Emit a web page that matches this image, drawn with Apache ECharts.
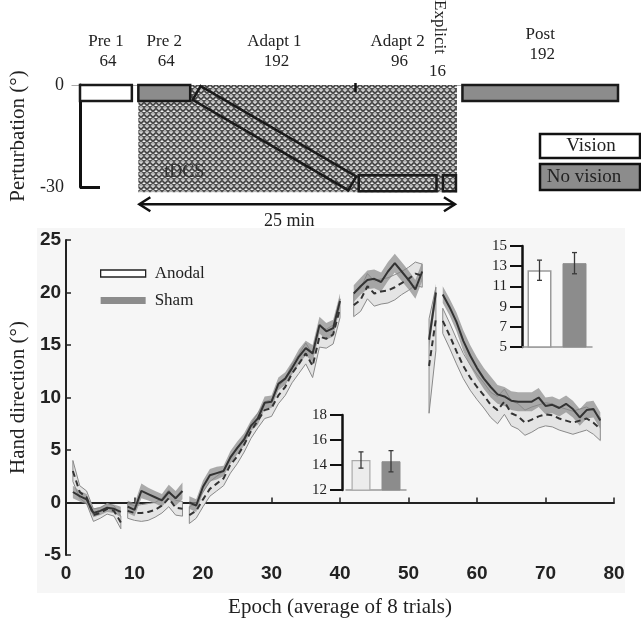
<!DOCTYPE html>
<html><head><meta charset="utf-8">
<script src="https://cdn.jsdelivr.net/npm/echarts@6/dist/echarts.min.js"></script>
<style>html,body{margin:0;padding:0;background:#fff}#c{width:641px;height:623px}</style>
</head><body><div id="c"></div>
<script>
// ---------------- main chart data ----------------
const epochs = [1,2,3,4,5,6,7,8, 9,10,11,12,13,14,15,16,17,
  18,19,20,21,22,23,24,25,26,27,28,29,30,31,32,33,34,35,36,37,38,39,40,
  42,43,44,45,46,47,48,49,50,51,52, 53,54,
  55,56,57,58,59,60,61,62,63,64,65,66,67,68,69,70,71,72,73,74,75,76,77,78];
const blockFirstEpoch = [1, 9, 18, 42, 53, 55];
const shamMean = [
  1.0,0.6,0.3,-1.0,-0.8,-0.5,-0.6,-0.9,
  -0.4,-0.7,1.1,0.8,0.5,0.2,1.0,0.4,1.1,
  0.0,-0.3,1.5,2.6,2.8,3.0,4.3,5.2,6.0,7.3,8.0,9.5,9.6,11.3,11.8,12.8,13.9,14.7,14.2,16.9,16.3,16.6,19.2,
  19.9,20.6,21.2,21.3,21.0,22.0,22.8,22.0,21.2,20.3,22.0,
  15.5,20.0,
  19.8,18.6,17.2,15.4,14.0,12.8,11.8,11.0,10.3,10.1,9.7,9.6,9.6,9.6,10.0,9.2,9.3,9.0,9.4,8.9,8.1,8.8,8.9,7.8];
const shamSem = [
  0.6,0.5,0.5,0.4,0.4,0.4,0.4,0.5,
  0.6,0.6,0.7,0.6,0.6,0.6,0.7,0.7,0.8,
  0.6,0.6,0.6,0.6,0.6,0.5,0.6,0.6,0.6,0.5,0.6,0.6,0.6,0.6,0.6,0.6,0.7,0.7,0.8,0.8,0.8,0.8,0.7,
  0.8,0.8,0.9,0.9,0.9,0.9,0.9,0.9,0.9,0.9,0.9,
  0.8,0.8,
  0.8,0.8,0.9,1.0,1.0,1.0,1.0,1.0,0.9,0.9,0.9,0.9,0.9,0.9,0.9,0.8,0.8,0.8,0.8,0.8,0.8,0.8,0.8,0.8];
const anodalMean = [
  3.0,1.0,0.5,-1.2,-1.0,-0.6,-0.8,-1.9,
  -0.8,-1.0,-1.0,-0.9,-0.7,-0.3,0.4,-0.5,-0.6,
  -1.2,-0.8,0.3,1.3,1.8,2.3,3.6,4.4,5.5,6.8,7.8,8.8,9.0,10.2,11.0,12.3,13.2,14.2,13.0,15.8,15.6,16.0,18.5,
  18.8,19.3,20.6,19.9,20.1,20.2,20.5,20.9,21.3,21.8,21.6,
  13.0,17.5,
  17.3,15.9,14.4,13.0,11.9,11.0,10.2,9.3,8.8,9.6,8.5,8.2,7.6,7.9,8.2,8.4,8.3,8.0,7.8,7.6,7.8,8.0,7.6,7.0];
const anodalSem = [
  1.0,0.6,0.6,0.6,0.5,0.5,0.5,0.6,
  0.7,0.7,0.8,0.8,0.7,0.7,0.8,0.7,0.7,
  0.8,0.7,0.7,0.7,0.7,0.7,0.8,0.7,0.7,0.7,0.7,0.8,0.8,0.8,0.8,0.9,0.9,1.0,1.1,1.0,0.9,0.9,0.9,
  1.1,1.1,1.2,1.2,1.2,1.2,1.2,1.1,1.1,1.1,1.1,
  4.5,3.0,
  1.2,1.2,1.2,1.2,1.2,1.2,1.2,1.2,1.3,1.2,1.2,1.2,1.2,1.2,1.1,1.1,1.1,1.1,1.1,1.1,1.1,1.1,1.1,1.1];
const groupNames = ['Anodal', 'Sham'];

// ---------------- inset bar data ----------------
const insetLowMean = [14.4, 14.3];
const insetLowSem = [0.65, 0.85];
const insetHighMean = [12.6, 13.3];
const insetHighSem = [1.0, 1.05];

// ---------------- protocol schematic ----------------
const blockNames = ['Pre 1', 'Pre 2', 'Adapt 1', 'Adapt 2', 'Explicit', 'Post'];
const blockTrials = [64, 64, 192, 96, 16, 192];
const blockPertStart = [0, 0, 0, -30, -30, 0];
const blockPertEnd = [0, 0, -30, -30, -30, 0];
const tdcsFirstBlock = 1, tdcsLastBlock = 4;
const tdcsLabel = 'tDCS', tdcsDuration = '25 min';
const visionLegend = ['Vision', 'No vision'];

// ---------------- styling constants ----------------
const SERIF = '"Liberation Serif","Times New Roman",serif';
const SANS = '"Liberation Sans",Arial,sans-serif';
const BLOCK_GAP = 8;            // trials of blank space between blocks
const BOX_HALF = 8;             // px half-height of schematic boxes
const blockFill = ['#ffffff', '#8c8c8c', 'none', 'none', 'none', '#8c8c8c'];
const labelLift = [0, 0, 0, 0, 0, 7];
function boxCenter(p) { return p * 0.885 - 2.35; }

const blockStart = [];
(function () { let acc = 0; blockTrials.forEach((t, i) => { blockStart.push(acc); acc += t + BLOCK_GAP; }); })();
const blockEnd = blockStart.map((s, i) => s + blockTrials[i]);

const epochBlock = epochs.map(e => { let b = 0; blockFirstEpoch.forEach((f, i) => { if (e >= f) b = i; }); return b; });

function lineData(mean) {
  const out = [];
  epochs.forEach((e, k) => {
    if (k > 0 && epochBlock[k] !== epochBlock[k - 1]) out.push([(epochs[k - 1] + e) / 2, '-']);
    out.push([e, mean[k]]);
  });
  return out;
}
function bandRender(mean, sem, style) {
  return function (params, api) {
    const b = params.dataIndex;
    const ks = [];
    epochBlock.forEach((bb, k) => { if (bb === b) ks.push(k); });
    const up = ks.map(k => api.coord([epochs[k], mean[k] + sem[k]]));
    const lo = ks.map(k => api.coord([epochs[k], mean[k] - sem[k]])).reverse();
    return { type: 'polygon', shape: { points: up.concat(lo) }, style: Object.assign({}, style) };
  };
}

function makeHatch() {
  const c = document.createElement('canvas');
  c.width = 6; c.height = 6;
  const g = c.getContext('2d');
  g.fillStyle = '#b4b4b4'; g.fillRect(0, 0, 6, 6);
  g.strokeStyle = '#2e2e2e'; g.lineWidth = 1.1;
  g.beginPath(); g.moveTo(0, 0.5); g.lineTo(3, 3.5); g.lineTo(6, 0.5); g.stroke();
  g.beginPath(); g.moveTo(0, 5.5); g.lineTo(1.5, 4); g.stroke();
  g.beginPath(); g.moveTo(4.5, 4); g.lineTo(6, 5.5); g.stroke();
  g.fillStyle = '#f0f0f0';
  g.fillRect(2.5, 0, 1, 1); g.fillRect(0, 3, 1, 1); g.fillRect(5, 3, 1, 1);
  return c;
}
const hatch = makeHatch();

function errRender(params, api) {
  const x = api.value(0), m = api.value(1), s = api.value(2);
  const top = api.coord([x, m + s]), bot = api.coord([x, m - s]);
  const st = { stroke: '#3a3a3a', lineWidth: 1.3, fill: 'none' };
  return { type: 'group', children: [
    { type: 'line', shape: { x1: top[0], y1: top[1], x2: bot[0], y2: bot[1] }, style: st },
    { type: 'line', shape: { x1: top[0] - 2.5, y1: top[1], x2: top[0] + 2.5, y2: top[1] }, style: st },
    { type: 'line', shape: { x1: bot[0] - 2.5, y1: bot[1], x2: bot[0] + 2.5, y2: bot[1] }, style: st }
  ] };
}

function blockRender(params, api) {
  const i = params.dataIndex;
  const A = api.coord([blockStart[i], boxCenter(blockPertStart[i])]);
  const B = api.coord([blockEnd[i], boxCenter(blockPertEnd[i])]);
  const dx = B[0] - A[0], dy = B[1] - A[1], len = Math.hypot(dx, dy);
  const nx = -dy / len * BOX_HALF, ny = dx / len * BOX_HALF;
  const zeroY = api.coord([blockStart[i], 0])[1];
  const cx = (api.coord([blockStart[i], 0])[0] + api.coord([blockEnd[i], 0])[0]) / 2;
  const font = '17px ' + SERIF;
  const children = [{
    type: 'polygon',
    shape: { points: [[A[0] - nx, A[1] - ny], [B[0] - nx, B[1] - ny], [B[0] + nx, B[1] + ny], [A[0] + nx, A[1] + ny]] },
    style: { fill: blockFill[i], stroke: '#1a1a1a', lineWidth: 2.5 }
  }];
  if (i === 4) {
    children.push({ type: 'text', x: cx - 10, y: zeroY - 58, rotation: -Math.PI / 2,
      style: { text: blockNames[i], font: font, fill: '#222', align: 'center', verticalAlign: 'middle' } });
    children.push({ type: 'text', x: cx - 12, y: zeroY - 13,
      style: { text: String(blockTrials[i]), font: font, fill: '#222', align: 'center', verticalAlign: 'middle' } });
  } else {
    children.push({ type: 'text', x: cx, y: zeroY - 43 - labelLift[i],
      style: { text: blockNames[i], font: font, fill: '#222', align: 'center', verticalAlign: 'middle' } });
    children.push({ type: 'text', x: cx + 2, y: zeroY - 23 - labelLift[i],
      style: { text: String(blockTrials[i]), font: font, fill: '#222', align: 'center', verticalAlign: 'middle' } });
  }
  return { type: 'group', children: children };
}

function tdcsRender(params, api) {
  const x0 = api.coord([blockStart[tdcsFirstBlock], 0]);
  const x1 = api.coord([blockEnd[tdcsLastBlock], 0]);
  const bottom = api.coord([0, boxCenter(-30)])[1] + BOX_HALF + 1;
  const xm = api.coord([(blockEnd[2] + blockStart[3]) / 2, 0])[0];
  const ay = bottom + 12;
  const ast = { stroke: '#111', lineWidth: 2.5, fill: 'none' };
  return { type: 'group', children: [
    { type: 'rect', shape: { x: x0[0], y: x0[1], width: x1[0] - x0[0] + 1, height: bottom - x0[1] },
      style: { fill: { image: hatch, repeat: 'repeat' }, stroke: 'none' } },
    { type: 'line', shape: { x1: xm, y1: x0[1] - 2, x2: xm, y2: x0[1] + 7 }, style: { stroke: '#111', lineWidth: 2.5 } },
    { type: 'text', x: x0[0] + 46, y: bottom - 20,
      style: { text: tdcsLabel, font: '18px ' + SERIF, fill: '#333', align: 'center', verticalAlign: 'middle' } },
    { type: 'line', shape: { x1: x0[0] + 1, y1: ay, x2: x1[0] - 1, y2: ay }, style: ast },
    { type: 'polyline', shape: { points: [[x0[0] + 12, ay - 7], [x0[0] + 1, ay], [x0[0] + 12, ay + 7]] }, style: ast },
    { type: 'polyline', shape: { points: [[x1[0] - 12, ay - 7], [x1[0] - 1, ay], [x1[0] - 12, ay + 7]] }, style: ast },
    { type: 'text', x: (x0[0] + x1[0]) / 2 - 8, y: ay + 17,
      style: { text: tdcsDuration, font: '18px ' + SERIF, fill: '#222', align: 'center', verticalAlign: 'middle' } }
  ] };
}

const chart = echarts.init(document.getElementById('c'), null, { renderer: 'canvas' });
const insetYAxis = (min, max, offset) => ({
  type: 'value', min: min, max: max, interval: 2, offset: offset,
  axisLine: { show: true, lineStyle: { color: '#111', width: 2.5 } },
  axisTick: { show: true, inside: false, length: 12, lineStyle: { color: '#111', width: 2 } },
  axisLabel: { fontFamily: SERIF, fontSize: 15, color: '#222', margin: 15 },
  splitLine: { show: false }
});
const insetXAxis = {
  type: 'category', data: groupNames,
  axisLine: { show: true, onZero: false, lineStyle: { color: '#999', width: 1.5 } },
  axisTick: { show: false }, axisLabel: { show: false }
};

const option = {
  animation: false,
  backgroundColor: '#ffffff',
  graphic: [
    { type: 'rect', z: -10, shape: { x: 37, y: 228, width: 588, height: 365 }, style: { fill: '#f6f6f6' } },
    { type: 'rect', shape: { x: 540, y: 134, width: 100, height: 24 }, style: { fill: '#fff', stroke: '#111', lineWidth: 2.5 } },
    { type: 'text', x: 591, y: 146, style: { text: visionLegend[0], font: '19px ' + SERIF, fill: '#222', align: 'center', verticalAlign: 'middle' } },
    { type: 'rect', shape: { x: 540, y: 164, width: 100, height: 26 }, style: { fill: '#8c8c8c', stroke: '#111', lineWidth: 2.5 } },
    { type: 'text', x: 584, y: 177, style: { text: visionLegend[1], font: '19px ' + SERIF, fill: '#222', align: 'center', verticalAlign: 'middle' } }
  ],
  legend: {
    orient: 'vertical', left: 95, top: 260, itemWidth: 45, itemHeight: 7, itemGap: 10,
    textStyle: { fontFamily: SERIF, fontSize: 17, color: '#222', padding: [0, 0, 0, 4] },
    selectedMode: false,
    data: [
      { name: groupNames[0], icon: 'rect', itemStyle: { color: '#ffffff', borderColor: '#222', borderWidth: 1.3 } },
      { name: groupNames[1], icon: 'rect', itemStyle: { color: '#8c8c8c', borderWidth: 0 } }
    ]
  },
  grid: [
    { left: 66, top: 240, width: 548, height: 316 },
    { left: 64, top: 85, width: 554, height: 102 },
    { left: 346, top: 415, width: 60, height: 75 },
    { left: 522, top: 246, width: 70, height: 101 }
  ],
  xAxis: [
    { gridIndex: 0, type: 'value', min: 0, max: 80, interval: 10,
      axisLine: { lineStyle: { color: '#222', width: 2 } },
      axisTick: { inside: true, length: 5, lineStyle: { color: '#222', width: 1.5 } },
      axisLabel: { fontFamily: SANS, fontWeight: 'bold', fontSize: 19, color: '#222', margin: 9 },
      splitLine: { show: false },
      name: 'Epoch (average of 8 trials)', nameLocation: 'middle', nameGap: 42,
      nameTextStyle: { fontFamily: SERIF, fontSize: 21, color: '#222' } },
    { gridIndex: 1, type: 'value', min: -10, max: blockEnd[5], position: 'top',
      axisLine: { show: true, onZero: false, lineStyle: { color: '#aaa', width: 1 } },
      axisTick: { show: false }, axisLabel: { show: false }, splitLine: { show: false } },
    Object.assign({ gridIndex: 2 }, insetXAxis),
    Object.assign({ gridIndex: 3 }, insetXAxis)
  ],
  yAxis: [
    { gridIndex: 0, type: 'value', min: -5, max: 25, interval: 5,
      axisLine: { show: true, lineStyle: { color: '#222', width: 2 } },
      axisTick: { show: true, inside: true, length: 5, lineStyle: { color: '#222', width: 1.5 } },
      axisLabel: { fontFamily: SANS, fontWeight: 'bold', fontSize: 19, color: '#222', margin: 5 },
      splitLine: { show: false },
      name: 'Hand direction (°)', nameLocation: 'middle', nameGap: 36,
      nameTextStyle: { fontFamily: SERIF, fontSize: 21, color: '#222' } },
    { gridIndex: 1, type: 'value', min: -30, max: 0, interval: 30,
      axisLine: { show: true, lineStyle: { color: '#111', width: 3 } },
      axisTick: { show: true, inside: true, length: 20, customValues: [-30], lineStyle: { color: '#111', width: 3 } },
      axisLabel: { fontFamily: SERIF, fontSize: 18, color: '#222', margin: 8 },
      splitLine: { show: false },
      name: 'Perturbation (°)', nameLocation: 'middle', nameGap: 40,
      nameTextStyle: { fontFamily: SERIF, fontSize: 21, color: '#222' } },
    Object.assign({ gridIndex: 2 }, insetYAxis(12, 18, 4)),
    Object.assign({ gridIndex: 3 }, insetYAxis(5, 15, 0))
  ],
  series: [
    { type: 'custom', name: groupNames[0], xAxisIndex: 0, yAxisIndex: 0, silent: true, z: 1,
      itemStyle: { color: '#e4e4e4' },
      renderItem: bandRender(anodalMean, anodalSem, { fill: '#e4e4e4', stroke: 'none' }),
      data: blockFirstEpoch.map(e => [e, 0]) },
    { type: 'custom', name: groupNames[1], xAxisIndex: 0, yAxisIndex: 0, silent: true, z: 2,
      itemStyle: { color: '#8c8c8c' },
      renderItem: bandRender(shamMean, shamSem, { fill: 'rgba(140,140,140,0.72)', stroke: 'none' }),
      data: blockFirstEpoch.map(e => [e, 0]) },
    { type: 'custom', name: 'Anodal outline', xAxisIndex: 0, yAxisIndex: 0, silent: true, z: 3,
      renderItem: bandRender(anodalMean, anodalSem, { fill: 'none', stroke: '#8a8a8a', lineWidth: 1 }),
      data: blockFirstEpoch.map(e => [e, 0]) },
    { type: 'line', name: 'Anodal mean', xAxisIndex: 0, yAxisIndex: 0, z: 4, silent: true,
      showSymbol: false, symbol: 'none', connectNulls: false,
      lineStyle: { color: '#333', width: 2, type: [6, 4] }, data: lineData(anodalMean) },
    { type: 'line', name: 'Sham mean', xAxisIndex: 0, yAxisIndex: 0, z: 5, silent: true,
      showSymbol: false, symbol: 'none', connectNulls: false,
      lineStyle: { color: '#333', width: 2 }, data: lineData(shamMean) },
    { type: 'custom', name: 'tdcs', xAxisIndex: 1, yAxisIndex: 1, silent: true, z: 1,
      renderItem: tdcsRender, data: [[blockStart[tdcsFirstBlock], 0]] },
    { type: 'custom', name: 'blocks', xAxisIndex: 1, yAxisIndex: 1, silent: true, z: 2,
      renderItem: blockRender, data: blockNames.map((n, i) => [blockStart[i], blockPertStart[i]]) },
    { type: 'bar', name: 'insetLow', xAxisIndex: 2, yAxisIndex: 2, barWidth: 19, silent: true,
      data: insetLowMean.map((v, i) => ({ value: v, itemStyle: i === 0
        ? { color: '#ececec', borderColor: '#aaa', borderWidth: 1.2 }
        : { color: '#8c8c8c', borderColor: '#8c8c8c', borderWidth: 1 } })) },
    { type: 'custom', name: 'insetLowErr', xAxisIndex: 2, yAxisIndex: 2, silent: true, z: 5,
      renderItem: errRender, data: insetLowMean.map((v, i) => [i, v, insetLowSem[i]]) },
    { type: 'bar', name: 'insetHigh', xAxisIndex: 3, yAxisIndex: 3, barWidth: 24, silent: true,
      data: insetHighMean.map((v, i) => ({ value: v, itemStyle: i === 0
        ? { color: '#ffffff', borderColor: '#9a9a9a', borderWidth: 1.5 }
        : { color: '#8c8c8c', borderColor: '#8c8c8c', borderWidth: 1 } })) },
    { type: 'custom', name: 'insetHighErr', xAxisIndex: 3, yAxisIndex: 3, silent: true, z: 5,
      renderItem: errRender, data: insetHighMean.map((v, i) => [i, v, insetHighSem[i]]) }
  ]
};
chart.setOption(option);
</script></body></html>
